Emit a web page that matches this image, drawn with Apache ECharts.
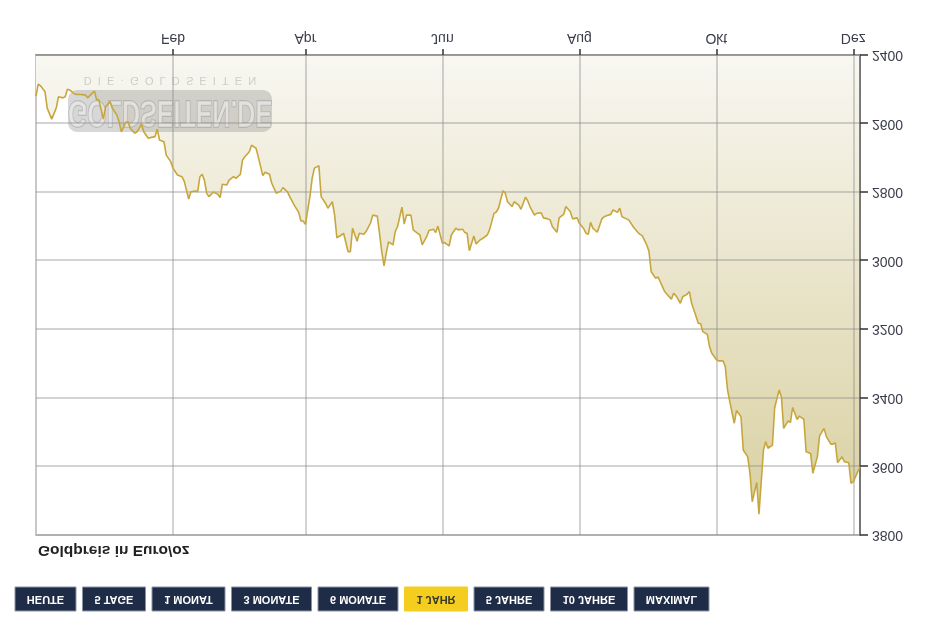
<!DOCTYPE html>
<html>
<head>
<meta charset="utf-8">
<script src="https://cdn.jsdelivr.net/npm/echarts@6/dist/echarts.min.js"></script>
<style>
  html, body { margin: 0; padding: 0; background: #ffffff; }
  #chart { width: 945px; height: 628px; transform: scaleY(-1); transform-origin: 50% 50%; }
</style>
</head>
<body>
<div id="chart"></div>
<script>
// Goldpreis in Euro/oz, one year
const dates = [
  '2024-12-02','2024-12-03','2024-12-04','2024-12-06','2024-12-07','2024-12-09','2024-12-11','2024-12-12','2024-12-14','2024-12-15',
  '2024-12-16','2024-12-17','2024-12-19','2024-12-20','2024-12-22','2024-12-24','2024-12-25','2024-12-27','2024-12-28','2024-12-29',
  '2024-12-30','2025-01-01','2025-01-02','2025-01-04','2025-01-05','2025-01-07','2025-01-08','2025-01-09','2025-01-11','2025-01-12',
  '2025-01-13','2025-01-15','2025-01-16','2025-01-18','2025-01-19','2025-01-21','2025-01-22','2025-01-24','2025-01-25','2025-01-26',
  '2025-01-28','2025-01-29','2025-01-31','2025-02-01','2025-02-03','2025-02-05','2025-02-06','2025-02-07','2025-02-08','2025-02-09',
  '2025-02-11','2025-02-12','2025-02-13','2025-02-14','2025-02-15','2025-02-16','2025-02-17','2025-02-19','2025-02-21','2025-02-22',
  '2025-02-23','2025-02-25','2025-02-26','2025-02-28','2025-03-01','2025-03-03','2025-03-04','2025-03-05','2025-03-07','2025-03-08',
  '2025-03-10','2025-03-11','2025-03-13','2025-03-14','2025-03-16','2025-03-17','2025-03-19','2025-03-21','2025-03-22','2025-03-24',
  '2025-03-25','2025-03-27','2025-03-29','2025-03-30','2025-03-31','2025-04-01','2025-04-03','2025-04-04','2025-04-05','2025-04-07',
  '2025-04-08','2025-04-10','2025-04-11','2025-04-13','2025-04-14','2025-04-15','2025-04-17','2025-04-18','2025-04-20','2025-04-21',
  '2025-04-22','2025-04-24','2025-04-25','2025-04-27','2025-04-28','2025-04-30','2025-05-01','2025-05-03','2025-05-04','2025-05-05',
  '2025-05-06','2025-05-07','2025-05-08','2025-05-10','2025-05-11','2025-05-12','2025-05-14','2025-05-15','2025-05-16','2025-05-18',
  '2025-05-19','2025-05-21','2025-05-22','2025-05-23','2025-05-25','2025-05-26','2025-05-28','2025-05-29','2025-05-30','2025-06-01',
  '2025-06-02','2025-06-04','2025-06-05','2025-06-07','2025-06-08','2025-06-10','2025-06-11','2025-06-12','2025-06-13','2025-06-15',
  '2025-06-16','2025-06-18','2025-06-19','2025-06-21','2025-06-22','2025-06-24','2025-06-25','2025-06-26','2025-06-28','2025-06-29',
  '2025-06-30','2025-07-02','2025-07-03','2025-07-05','2025-07-06','2025-07-08','2025-07-09','2025-07-10','2025-07-12','2025-07-13',
  '2025-07-15','2025-07-16','2025-07-18','2025-07-19','2025-07-20','2025-07-22','2025-07-23','2025-07-25','2025-07-26','2025-07-28',
  '2025-07-29','2025-07-31','2025-08-01','2025-08-03','2025-08-04','2025-08-05','2025-08-06','2025-08-07','2025-08-09','2025-08-11',
  '2025-08-12','2025-08-14','2025-08-15','2025-08-16','2025-08-18','2025-08-19','2025-08-20','2025-08-22','2025-08-23','2025-08-25',
  '2025-08-27','2025-08-28','2025-08-29','2025-08-31','2025-09-01','2025-09-02','2025-09-04','2025-09-05','2025-09-06','2025-09-08',
  '2025-09-09','2025-09-11','2025-09-12','2025-09-13','2025-09-15','2025-09-16','2025-09-18','2025-09-19','2025-09-20','2025-09-22',
  '2025-09-23','2025-09-24','2025-09-25','2025-09-27','2025-09-28','2025-09-29','2025-10-01','2025-10-02','2025-10-04','2025-10-05',
  '2025-10-06','2025-10-07','2025-10-09','2025-10-10','2025-10-12','2025-10-13','2025-10-15','2025-10-16','2025-10-17','2025-10-19',
  '2025-10-20','2025-10-22','2025-10-23','2025-10-24','2025-10-26','2025-10-27','2025-10-29','2025-10-30','2025-10-31','2025-11-02',
  '2025-11-03','2025-11-04','2025-11-06','2025-11-07','2025-11-09','2025-11-10','2025-11-12','2025-11-13','2025-11-15','2025-11-16',
  '2025-11-18','2025-11-19','2025-11-21','2025-11-22','2025-11-23','2025-11-24','2025-11-26','2025-11-27','2025-11-29','2025-11-30',
  '2025-12-01','2025-12-03','2025-12-04'
];

const prices = [
  2520, 2485, 2490, 2507, 2555, 2587, 2555, 2522, 2525, 2522,
  2500, 2502, 2513, 2515, 2515, 2517, 2525, 2512, 2505, 2531,
  2531, 2587, 2551, 2536, 2555, 2575, 2595, 2624, 2596, 2595,
  2614, 2628, 2624, 2602, 2624, 2643, 2641, 2638, 2616, 2648,
  2653, 2692, 2711, 2730, 2750, 2755, 2768, 2794, 2820, 2799,
  2797, 2799, 2755, 2748, 2765, 2803, 2813, 2800, 2806, 2816,
  2777, 2779, 2765, 2755, 2760, 2748, 2706, 2697, 2682, 2663,
  2672, 2697, 2752, 2742, 2748, 2774, 2803, 2797, 2787, 2799,
  2813, 2838, 2859, 2884, 2884, 2894, 2813, 2760, 2730, 2723,
  2813, 2833, 2847, 2828, 2867, 2933, 2925, 2920, 2974, 2974,
  2905, 2943, 2920, 2923, 2915, 2890, 2867, 2870, 2920, 2974,
  3015, 2978, 2945, 2954, 2915, 2901, 2844, 2893, 2867, 2867,
  2910, 2920, 2925, 2954, 2930, 2912, 2908, 2918, 2899, 2949,
  2947, 2957, 2925, 2905, 2910, 2908, 2918, 2920, 2971, 2928,
  2951, 2938, 2935, 2925, 2910, 2862, 2858, 2847, 2796, 2803,
  2828, 2842, 2828, 2838, 2850, 2815, 2825, 2842, 2867, 2862,
  2860, 2875, 2878, 2881, 2901, 2917, 2875, 2865, 2842, 2857,
  2878, 2875, 2891, 2907, 2920, 2923, 2888, 2905, 2917, 2878,
  2872, 2867, 2865, 2852, 2859, 2847, 2872, 2878, 2881, 2901,
  2917, 2923, 2927, 2954, 2972, 3032, 3051, 3047, 3061, 3090,
  3098, 3112, 3095, 3102, 3124, 3105, 3098, 3090, 3124, 3163,
  3183, 3183, 3207, 3215, 3251, 3270, 3288, 3292, 3292, 3309,
  3377, 3411, 3474, 3437, 3455, 3552, 3572, 3620, 3703, 3647,
  3739, 3552, 3528, 3547, 3538, 3428, 3377, 3398, 3489, 3467,
  3472, 3428, 3463, 3453, 3463, 3557, 3562, 3620, 3572, 3511,
  3489, 3513, 3535, 3535, 3531, 3589, 3572, 3586, 3589, 3649,
  3645, 3615, 3601
];

const axisStart = '2024-12-02';
const axisEnd = '2025-12-04';
const monthTickDates = ['2025-02-01', '2025-04-01', '2025-06-01', '2025-08-01', '2025-10-01', '2025-12-01'];
const monthTickLabels = ['Feb', 'Apr', 'Jun', 'Aug', 'Okt', 'Dez'];
const yTicks = { min: 2400, max: 3800, step: 200 };
const chartTitle = 'Goldpreis in Euro/oz';
const rangeButtons = ['HEUTE', '5 TAGE', '1 MONAT', '3 MONATE', '6 MONATE', '1 JAHR', '5 JAHRE', '10 JAHRE', 'MAXIMAL'];
const activeButton = '1 JAHR';

function toTs(s) {
  const p = s.split('-').map(Number);
  return new Date(p[0], p[1] - 1, p[2]).getTime();
}

const seriesData = dates.map((d, i) => [toTs(d), prices[i]]);
const monthTicks = monthTickDates.map(toTs);

const FONT = '"Liberation Sans", Arial, sans-serif';

// Range selector buttons, laid out left to right by text width
const measureCtx = document.createElement('canvas').getContext('2d');
measureCtx.font = 'bold 11px ' + FONT;
const buttonGraphics = [];
let bx = 15;
rangeButtons.forEach(label => {
  const w = Math.round(measureCtx.measureText(label).width + 24);
  const active = label === activeButton;
  buttonGraphics.push({
    type: 'group',
    x: bx, y: 17,
    children: [
      {
        type: 'rect',
        shape: { x: 0, y: 0, width: w, height: 24 },
        style: { fill: active ? '#f5cd1f' : '#1f2c47', stroke: active ? '#f5cd1f' : '#8a93a6', lineWidth: 1 }
      },
      {
        type: 'text',
        x: w / 2, y: 12,
        style: {
          text: label, fill: active ? '#3a3a2a' : '#ffffff',
          font: 'bold 11px ' + FONT, textAlign: 'center', textVerticalAlign: 'middle'
        }
      }
    ]
  });
  bx += w + 6.5;
});

const chart = echarts.init(document.getElementById('chart'), null, { renderer: 'canvas' });

chart.setOption({
  animation: false,
  backgroundColor: '#ffffff',
  grid: {
    left: 36, right: 85, top: 93, bottom: 55,
    show: true, borderColor: '#c8c8c8', borderWidth: 2, backgroundColor: 'transparent'
  },
  xAxis: {
    type: 'value',
    min: toTs(axisStart),
    max: toTs(axisEnd),
    z: 3,
    axisLine: { show: true, lineStyle: { color: '#8a8a8a', width: 1.5 } },
    axisTick: { show: true, customValues: monthTicks, length: 6, lineStyle: { color: '#333333', width: 1.5 } },
    axisLabel: {
      customValues: monthTicks,
      margin: 10,
      fontFamily: FONT, fontSize: 14, color: '#3a3d4a',
      formatter: v => {
        const i = monthTicks.indexOf(v);
        return i >= 0 ? monthTickLabels[i] : '';
      }
    },
    splitLine: { show: true, lineStyle: { color: 'rgba(140,140,140,0.5)', width: 1.5 } }
  },
  yAxis: {
    type: 'value',
    position: 'right',
    min: yTicks.min, max: yTicks.max, interval: yTicks.step,
    z: 3,
    axisLine: { show: true, lineStyle: { color: '#5a5a5a', width: 1.5 } },
    axisTick: { show: true, length: 8, lineStyle: { color: '#333333', width: 1.5 } },
    axisLabel: {
      margin: 12, fontFamily: FONT, fontSize: 14, color: '#3a3d4a',
      formatter: v => String(v)
    },
    splitLine: { show: true, lineStyle: { color: 'rgba(140,140,140,0.5)', width: 1.5 } }
  },
  graphic: [
    {
      type: 'text', x: 38, y: 78, z: 10,
      style: { text: chartTitle, font: 'bold 15.5px ' + FONT, fill: '#222222', textVerticalAlign: 'middle' }
    },
    // site watermark
    {
      type: 'group', z: 2,
      children: [
        {
          type: 'rect', z: 2,
          shape: { x: 68, y: 496, width: 204, height: 42, r: 9 },
          style: { fill: 'rgba(140,140,140,0.35)' }
        },
        {
          type: 'text', z: 2, x: 170, y: 517, scaleY: 1.45,
          style: {
            text: 'GOLDSEITEN.DE', font: 'bold 25px ' + FONT,
            fill: 'rgba(240,240,240,0.55)', stroke: 'rgba(125,125,125,0.4)', lineWidth: 1,
            textAlign: 'center', textVerticalAlign: 'middle'
          }
        },
        {
          type: 'text', z: 2, x: 170, y: 548,
          style: {
            text: 'D  I  E  ·  G  O  L  D  S  E  I  T  E  N', font: '11px ' + FONT,
            fill: 'rgba(165,165,165,0.5)', textAlign: 'center', textVerticalAlign: 'middle'
          }
        }
      ]
    }
  ].concat(buttonGraphics),
  series: [
    {
      name: 'Fläche',
      type: 'line',
      data: seriesData,
      z: 1,
      showSymbol: false,
      silent: true,
      lineStyle: { width: 0 },
      areaStyle: {
        origin: 'start',
        color: {
          type: 'linear', x: 0, y: 93, x2: 0, y2: 573, global: true,
          colorStops: [
            { offset: 0, color: '#d8cf9e' },
            { offset: 1, color: '#f8f7f1' }
          ]
        },
        opacity: 1
      }
    },
    {
      name: 'Goldpreis',
      type: 'line',
      data: seriesData,
      z: 5,
      showSymbol: false,
      lineStyle: { color: '#c7a73d', width: 1.6 }
    }
  ]
});
</script>
</body>
</html>
